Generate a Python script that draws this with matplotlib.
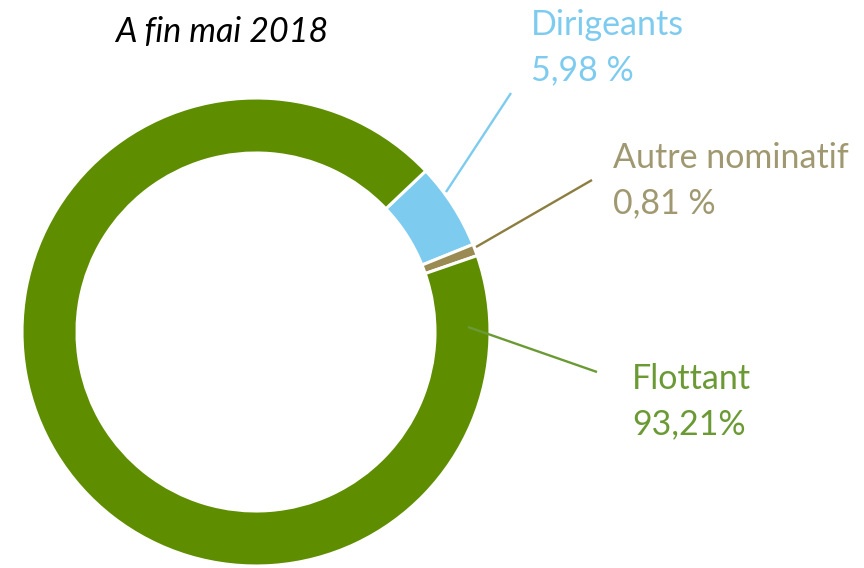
import matplotlib
matplotlib.use("Agg")
import matplotlib.pyplot as plt

LABELS = ["Dirigeants", "Autre nominatif", "Flottant"]
VALUES = [5.98, 0.81, 93.21]
VALUE_TEXT = ["5,98 %", "0,81 %", "93,21%"]
TITLE = "A fin mai 2018"

W, H = 864, 568
WEDGE_COLORS = ["#7ECBF0", "#9A8B52", "#5E8E00"]
TEXT_COLORS = ["#7ECBF0", "#A09870", "#6B9A35"]
LINE_COLORS = ["#7ECBF0", "#8C7D40", "#6B9A35"]

# label anchor (x, baseline of first line) and leader line ends, in pixels from top-left
LABEL_POS = [(531, 35), (613, 168), (632, 389)]
LEADERS = [((446, 192), (511, 93)), ((476, 247), (592, 180)), ((468, 327), (597, 372))]
LINE_GAP = 45
FS = 24.5

plt.rcParams["font.family"] = ["Lato", "DejaVu Sans"]

fig = plt.figure(figsize=(W / 100, H / 100), dpi=100)
ax = fig.add_axes([0, 0, 1, 1])

ax.pie(VALUES, colors=WEDGE_COLORS, startangle=43.5, counterclock=False,
       radius=234, center=(256, H - 332),
       wedgeprops=dict(width=55, edgecolor="white", linewidth=2.2))

for (p0, p1), c in zip(LEADERS, LINE_COLORS):
    ax.plot([p0[0], p1[0]], [H - p0[1], H - p1[1]], color=c, linewidth=1.7,
            solid_capstyle="butt")

for lab, val, (x, y), c in zip(LABELS, VALUE_TEXT, LABEL_POS, TEXT_COLORS):
    ax.text(x, H - y, lab, color=c, fontsize=FS, ha="left", va="baseline")
    ax.text(x, H - y - LINE_GAP, val, color=c, fontsize=FS, ha="left", va="baseline")

ax.text(115, H - 42, TITLE, color="black", fontsize=FS, style="italic",
        ha="left", va="baseline")

ax.set_xlim(0, W)
ax.set_ylim(0, H)
ax.set_aspect("auto")
ax.axis("off")

fig.savefig("out.png", dpi=100, facecolor="white")
